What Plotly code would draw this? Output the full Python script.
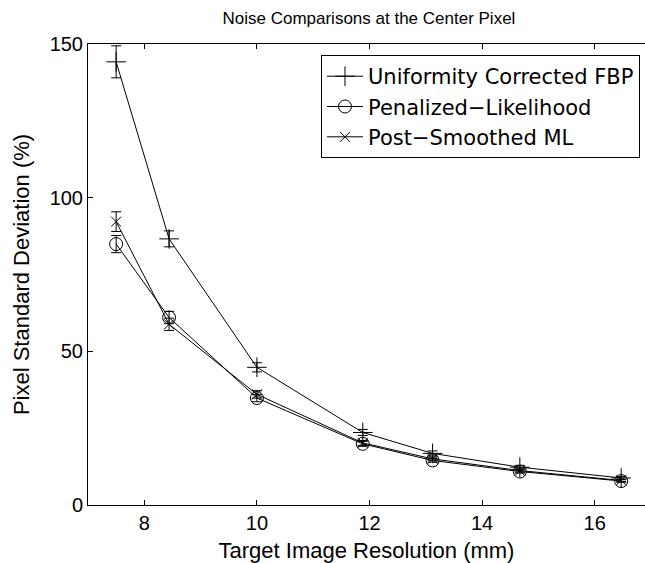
import plotly.graph_objects as go

resolution = [7.5, 8.44, 10.0, 11.88, 13.12, 14.67, 16.47]
fbp = [144.2, 86.6, 44.8, 23.6, 16.8, 12.3, 8.8]
fbp_err = [5.2, 2.6, 1.5, 1.0, 0.8, 0.6, 0.5]
pl = [84.9, 61.0, 34.8, 19.9, 14.5, 10.9, 7.8]
pl_err = [2.8, 2.0, 1.2, 0.8, 0.6, 0.5, 0.4]
ml = [92.2, 58.8, 36.0, 20.2, 15.0, 11.2, 8.0]
ml_err = [3.2, 2.0, 1.2, 0.8, 0.6, 0.5, 0.4]

names = ["Uniformity Corrected FBP", "Penalized\u2212Likelihood", "Post\u2212Smoothed ML"]
symbols = ["cross-thin-open", "circle-open", "x-thin-open"]
sizes = [14, 13, 10]

FONT = "Liberation Sans, Arial, sans-serif"

fig = go.Figure()
for name, ys, errs, sym, sz in zip(names, [fbp, pl, ml], [fbp_err, pl_err, ml_err], symbols, sizes):
    fig.add_trace(go.Scatter(
        x=resolution, y=ys, name=name, mode="lines+markers",
        line=dict(color="black", width=1),
        marker=dict(symbol=sym, size=sz, color="black", line=dict(color="black", width=1)),
        error_y=dict(type="data", array=errs, visible=True, color="black", thickness=1, width=5),
    ))

fig.update_layout(
    width=645, height=563,
    margin=dict(l=88, r=0, t=44, b=58),
    paper_bgcolor="white", plot_bgcolor="white",
    font=dict(family=FONT, color="black", size=20),
    title=dict(text="Noise Comparisons at the Center Pixel", x=0.572, xanchor="center",
               y=1 - 18 / 563, yanchor="middle", font=dict(size=17, family=FONT, color="black")),
    showlegend=True,
    legend=dict(x=0.991, y=0.976, xanchor="right", yanchor="top",
                bgcolor="white", bordercolor="black", borderwidth=1, itemwidth=36,
                font=dict(size=21, family="DejaVu Sans, sans-serif", color="black"), tracegroupgap=0),
)
fig.update_xaxes(
    range=[7, 16.893], tickvals=[8, 10, 12, 14, 16], ticks="inside", ticklen=5,
    tickcolor="black", showline=True, linecolor="black", linewidth=1, mirror="ticks",
    showgrid=False, zeroline=False, tickfont=dict(size=20),
    title=dict(text="Target Image Resolution (mm)", font=dict(size=22), standoff=9),
)
fig.update_yaxes(
    range=[0, 150], tickvals=[0, 50, 100, 150], ticks="inside", ticklen=5,
    tickcolor="black", showline=True, linecolor="black", linewidth=1, mirror=False,
    showgrid=False, zeroline=False, tickfont=dict(size=20),
    title=dict(text="Pixel Standard Deviation (%)", font=dict(size=22), standoff=13),
)

fig.write_html("out.html")
